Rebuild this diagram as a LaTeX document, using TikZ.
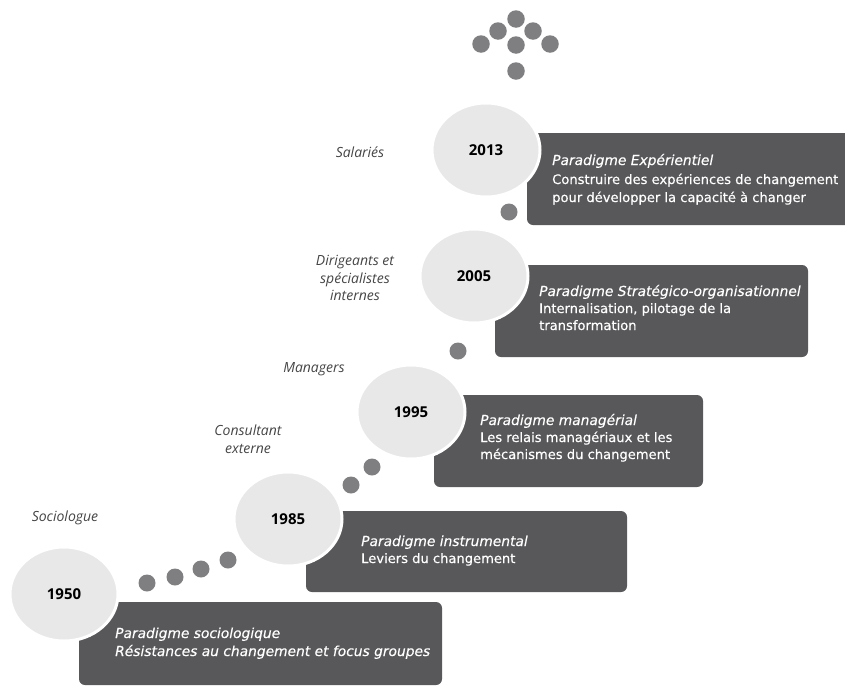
\documentclass[tikz,border=0pt]{standalone}
\usepackage{fontspec}
\setmainfont{Open Sans}
\newfontfamily\boxfont{DejaVu Sans}[FakeBold=0.35]
\newfontfamily\boxfontit{DejaVu Sans Oblique}[FakeBold=0.35]
\usetikzlibrary{shapes.geometric}
\definecolor{boxgray}{HTML}{58585A}
\definecolor{dotgray}{HTML}{7F7F82}
\definecolor{circgray}{HTML}{E8E8E8}
\definecolor{labgray}{HTML}{454545}
\tikzset{
  pbox/.style={fill=boxgray, rounded corners=6pt},
  yearcirc/.style={ellipse, minimum width=108pt, minimum height=94pt, inner sep=0pt,
    fill=circgray, draw=white, line width=3pt, font=\fontsize{15}{18}\selectfont\bfseries, text=black},
  dotc/.style={circle, minimum size=17pt, inner sep=0pt, fill=dotgray},
  adot/.style={circle, minimum size=17.5pt, inner sep=0pt, fill=dotgray},
  ltitle/.style={anchor=base west, inner sep=0pt, text=white, font=\boxfont\fontsize{13.8}{18}\selectfont\itshape},
  ltext/.style={anchor=base west, inner sep=0pt, text=white, font=\boxfont\fontsize{13.1}{18}\selectfont},
  role/.style={align=center, inner sep=0pt, text=labgray, font=\fontsize{14}{17.5}\selectfont\itshape},
}
\begin{document}
\begin{tikzpicture}[x=1pt,y=-1pt]
\useasboundingbox (0,0) rectangle (845,686);
\clip (0,0) rectangle (845,686);
% boxes
\fill[pbox] (79,602) rectangle (442,685);
\fill[pbox] (306,511) rectangle (627,592);
\fill[pbox] (434,395) rectangle (703,487);
\fill[pbox] (495,265) rectangle (808,357);
\fill[pbox] (527,133) rectangle (870,225);
% box texts
\node[ltitle] (t1a) at (115,638) {Paradigme sociologique};
\node[ltitle] (t1b) at (115,656) {Résistances au changement et focus groupes};
\node[ltitle] (t2a) at (361,546) {Paradigme instrumental};
\node[ltext]  (t2b) at (361,563) {Leviers du changement};
\node[ltitle] (t3a) at (480,425) {Paradigme managérial};
\node[ltext]  (t3b) at (480,442) {Les relais managériaux et les};
\node[ltext]  (t3c) at (480,459) {mécanismes du changement};
\node[ltitle] (t4a) at (539,296) {Paradigme Stratégico-organisationnel};
\node[ltext]  (t4b) at (539,313) {Internalisation, pilotage de la};
\node[ltext]  (t4c) at (539,330) {transformation};
\node[ltitle] (t5a) at (552,165) {Paradigme Expérientiel};
\node[ltext]  (t5b) at (552,184) {Construire des expériences de changement};
\node[ltext]  (t5c) at (552,202) {pour développer la capacité à changer};
% year circles
\node[yearcirc] (y1950) at (64,594) {1950};
\node[yearcirc] (y1985) at (288,519) {1985};
\node[yearcirc] (y1995) at (411,412) {1995};
\node[yearcirc] (y2005) at (474,276) {2005};
\node[yearcirc] (y2013) at (486,150) {2013};
% connecting dots
\node[dotc] (d1) at (147,583) {};
\node[dotc] (d2) at (175,577) {};
\node[dotc] (d3) at (201,569) {};
\node[dotc] (d4) at (228,560) {};
\node[dotc] (d5) at (351,485) {};
\node[dotc] (d6) at (372,467) {};
\node[dotc] (d7) at (458,351) {};
\node[dotc] (d8) at (509,212) {};
% arrow of dots
\node[adot] (a1) at (516,19) {};
\node[adot] (a2) at (498,31) {};
\node[adot] (a3) at (533,31) {};
\node[adot] (a4) at (481,44) {};
\node[adot] (a5) at (516,45) {};
\node[adot] (a6) at (550,44) {};
\node[adot] (a7) at (516,71) {};
% roles
\node[role] (r1) at (65,518) {Sociologue};
\node[role] (r2) at (248,439) {Consultant\\externe};
\node[role] (r3) at (314,369) {Managers};
\node[role] (r4) at (355,278) {Dirigeants et\\spécialistes\\internes};
\node[role] (r5) at (360,152) {Salariés};
\end{tikzpicture}
\end{document}
